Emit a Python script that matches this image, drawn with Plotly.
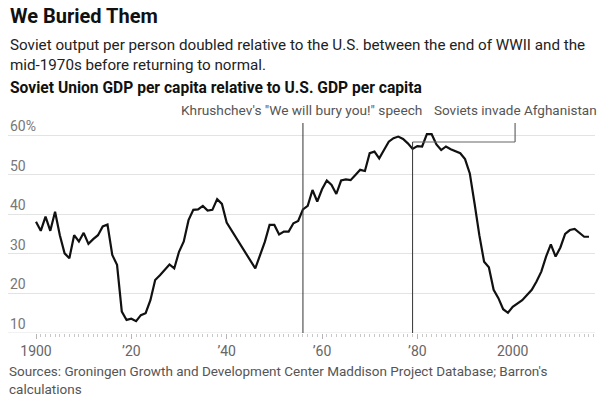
import plotly.graph_objects as go

# ---- data ----
years = [1900, 1901, 1902, 1903, 1904, 1905, 1906, 1907, 1908, 1909,
         1910, 1911, 1912, 1913, 1914, 1915, 1916, 1917, 1918, 1919,
         1920, 1921, 1922, 1923, 1924, 1925, 1926, 1927, 1928, 1929,
         1930, 1931, 1932, 1933, 1934, 1935, 1936, 1937, 1938, 1939,
         1940, 1946, 1947, 1948, 1949,
         1950, 1951, 1952, 1953, 1954, 1955, 1956, 1957, 1958, 1959,
         1960, 1961, 1962, 1963, 1964, 1965, 1966, 1967, 1968, 1969,
         1970, 1971, 1972, 1973, 1974, 1975, 1976, 1977, 1978, 1979,
         1980, 1981, 1982, 1983, 1984, 1985, 1986, 1987, 1988, 1989,
         1990, 1991, 1992, 1993, 1994, 1995, 1996, 1997, 1998, 1999,
         2000, 2001, 2002, 2003, 2004, 2005, 2006, 2007, 2008, 2009,
         2010, 2011, 2012, 2013, 2014, 2015, 2016]
ratio_pct = [38.1, 35.8, 39.4, 35.8, 40.6, 34.7, 30.1, 28.9, 34.7, 33.1,
             35.3, 32.5, 33.7, 34.7, 36.9, 37.4, 29.7, 27.2, 15.4, 13.3,
             13.6, 13.0, 14.5, 15.0, 18.3, 23.4, 24.6, 26.1, 27.3, 26.3,
             30.5, 33.1, 38.5, 41.1, 41.2, 42.1, 40.9, 41.1, 43.8, 42.6,
             37.9, 26.3, 29.7, 33.0, 37.3,
             37.3, 34.9, 35.6, 35.6, 37.7, 38.3, 41.2, 42.1, 46.1, 43.2,
             46.3, 48.5, 47.4, 45.1, 48.5, 48.8, 48.6, 49.9, 51.2, 50.9,
             55.4, 55.8, 54.1, 56.2, 58.3, 59.2, 59.6, 59.0, 57.9, 56.5,
             57.2, 57.1, 60.2, 60.2, 57.6, 56.2, 57.1, 56.4, 55.8, 55.4,
             53.9, 50.3, 42.7, 34.7, 28.0, 26.6, 20.9, 18.8, 16.0, 15.1,
             16.6, 17.5, 18.3, 19.6, 20.9, 23.0, 25.5, 29.3, 32.4, 29.3,
             31.6, 35.0, 36.0, 36.3, 35.4, 34.3, 34.3]

x_tickvals = [1900, 1920, 1940, 1960, 1980, 2000]
x_ticktext = ["1900", "\u201920", "\u201940", "\u201960", "\u201980", "2000"]
y_tickvals = [10, 20, 30, 40, 50, 60]
y_ticktext = ["10", "20", "30", "40", "50", "60%"]

events = [1956, 1979]
event_labels = ["Khrushchev's \"We will bury you!\" speech", "Soviets invade Afghanistan"]

title = "We Buried Them"
subtitle = ("Soviet output per person doubled relative to the U.S. between the end of WWII and the<br>"
            "mid-1970s before returning to normal.")
chart_title = "Soviet Union GDP per capita relative to U.S. GDP per capita"
source = ("Sources: Groningen Growth and Development Center Maddison Project Database; Barron's<br>"
          "calculations")

# ---- layout geometry (screen pixels; page margin removed via post_script) ----
W, H = 600, 399
S_LEFT, S_RIGHT, S_TOP, S_BOT = 8, 595, 100, 333      # plot area on screen
ML, MR, MT, MB = S_LEFT, W - S_RIGHT, S_TOP, H - S_BOT

PX_PER_YEAR = 4.767
X_RANGE = [1900 - (36 - S_LEFT) / PX_PER_YEAR, 1900 + (S_RIGHT - 36) / PX_PER_YEAR]
PX_PER_PCT = 3.96
Y_RANGE = [10, 10 + (S_BOT - S_TOP) / PX_PER_PCT]
LINE_TOP = 10 + (S_BOT - 123) / PX_PER_PCT      # top of event lines
BRACKET_Y = 10 + (S_BOT - 142) / PX_PER_PCT

def py(s):
    return (S_BOT - s) / (S_BOT - S_TOP)

def px(s):
    return (s - S_LEFT) / (S_RIGHT - S_LEFT)

FONT = "Roboto"
GRID = "#e3e3e3"

fig = go.Figure()
fig.add_trace(go.Scatter(x=years, y=ratio_pct, mode="lines",
                         line=dict(color="#111111", width=2.2),
                         connectgaps=True, hoverinfo="skip", showlegend=False))

# baseline at 10
fig.add_shape(type="line", xref="paper", yref="y", x0=0, x1=1, y0=10, y1=10,
              line=dict(color=GRID, width=1), layer="below")

# event lines
bracket_x = 2000.5
fig.add_shape(type="line", xref="x", yref="y", x0=events[0], x1=events[0],
              y0=10, y1=LINE_TOP, line=dict(color="#333333", width=1))
fig.add_shape(type="line", xref="x", yref="y", x0=events[1], x1=events[1],
              y0=10, y1=BRACKET_Y, line=dict(color="#333333", width=1))
fig.add_shape(type="line", xref="x", yref="y", x0=events[1], x1=bracket_x,
              y0=BRACKET_Y, y1=BRACKET_Y, line=dict(color="#666666", width=1.2))
fig.add_shape(type="line", xref="x", yref="y", x0=bracket_x, x1=bracket_x,
              y0=BRACKET_Y, y1=LINE_TOP, line=dict(color="#666666", width=1.2))

ann = []
ann.append(dict(text=f"<b>{title}</b>", x=px(8), y=py(16), xref="paper", yref="paper",
                xanchor="left", yanchor="middle", showarrow=False,
                font=dict(family=FONT, size=20, color="#111111")))
ann.append(dict(text=subtitle, x=px(8), y=py(55), xref="paper", yref="paper",
                xanchor="left", yanchor="middle", showarrow=False, align="left",
                font=dict(family=FONT, size=15.2, color="#222222")))
ann.append(dict(text=f"<b>{chart_title}</b>", x=px(8), y=py(88), xref="paper", yref="paper",
                xanchor="left", yanchor="middle", showarrow=False,
                font=dict(family=FONT, size=15.6, color="#111111")))
ann.append(dict(text=event_labels[0], x=px(301), y=py(110), xref="paper", yref="paper",
                xanchor="center", yanchor="middle", showarrow=False,
                font=dict(family=FONT, size=13.7, color="#555555")))
ann.append(dict(text=event_labels[1], x=px(515), y=py(110), xref="paper", yref="paper",
                xanchor="center", yanchor="middle", showarrow=False,
                font=dict(family=FONT, size=13.5, color="#555555")))
ann.append(dict(text=source, x=px(7), y=py(380), xref="paper", yref="paper",
                xanchor="left", yanchor="middle", showarrow=False, align="left",
                font=dict(family=FONT, size=13.5, color="#555555")))
# y-axis labels sit inside the plot, above their gridlines
for v, t in zip(y_tickvals, y_ticktext):
    ann.append(dict(text=t, x=0, y=v, xref="paper", yref="y",
                    xanchor="left", yanchor="middle", yshift=9, showarrow=False,
                    font=dict(family=FONT, size=14, color="#777777")))

fig.update_layout(
    width=W, height=H,
    margin=dict(l=ML, r=MR, t=MT, b=MB, pad=0, autoexpand=False),
    paper_bgcolor="white", plot_bgcolor="white",
    annotations=ann,
    showlegend=False,
    xaxis=dict(range=X_RANGE, tickmode="array", tickvals=x_tickvals, ticktext=x_ticktext,
               automargin=False,
               ticks="outside", ticklen=5, tickcolor="#b5b5b5", tickwidth=1,
               showgrid=False, zeroline=False, showline=False,
               tickfont=dict(family=FONT, size=14, color="#666666"),
               minor=dict(tickmode="array", tickvals=list(range(1900, 2018)),
                          ticks="outside", ticklen=3, tickcolor="#c8c8c8", tickwidth=1,
                          showgrid=False)),
    yaxis=dict(range=Y_RANGE, tickmode="array", tickvals=y_tickvals,
               showticklabels=False, automargin=False, ticks="", showgrid=True,
               gridcolor=GRID, gridwidth=1, zeroline=False, showline=False),
)

fig.write_html("out.html",
               config={"displayModeBar": False, "staticPlot": True},
               post_script="document.body.style.margin='0px';document.body.style.overflow='hidden';")
